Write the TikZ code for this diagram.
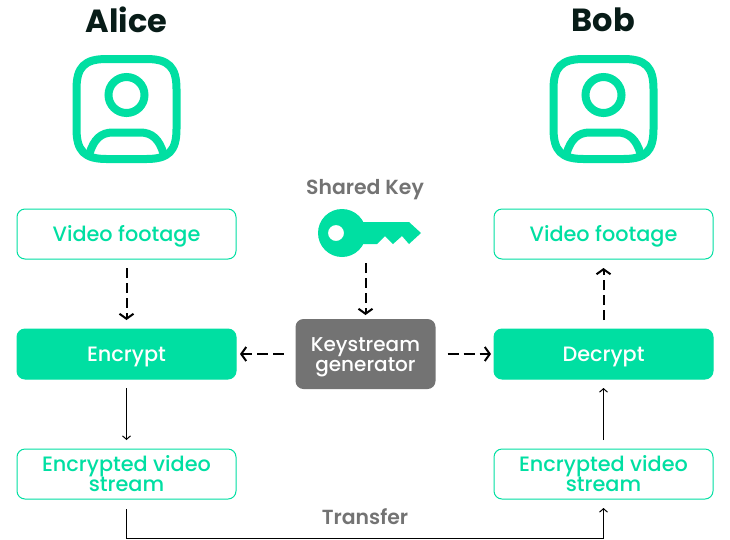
\documentclass[tikz,border=0pt]{standalone}
\usepackage{fontspec}
\setmainfont{Poppins Medium}
\newfontfamily\semiface{Poppins SemiBold}
\newfontfamily\boldface{Poppins Bold}
\usepackage{xcolor}
\definecolor{mint}{RGB}{0,223,162}
\definecolor{slate}{RGB}{115,115,115}
\definecolor{ink}{RGB}{8,28,24}
\usepackage{tikz}
\usetikzlibrary{positioning}
\usetikzlibrary{arrows.meta}
\tikzset{
  outline/.style  ={ font=\fontsize{20.8}{20}\selectfont, rectangle, rounded corners=8pt, draw=mint, fill=white, text=mint,
                     line width=1pt, outer sep=0pt, align=center, minimum width=219pt, minimum height=50pt, inner sep=0pt },
  solidbox/.style ={ outline, fill=mint, text=white, oneline },
  oneline/.style  ={ text height=16pt, text depth=2pt },
  keybox/.style   ={ font=\fontsize{20}{20}\selectfont, rectangle, rounded corners=8pt, fill=slate, text=white,
                     outer sep=0pt, align=center, minimum width=140pt, minimum height=70pt, inner sep=0pt },
  title/.style    ={ font=\boldface\fontsize{32}{32}\selectfont, text=ink, inner sep=0pt },
  caption/.style  ={ font=\semiface\fontsize{20.4}{20}\selectfont, text=slate, inner sep=0pt },
  dflow/.style={-{Straight Barb[length=5pt,width=14pt,line width=2pt]},dash pattern=on 10pt off 5pt,line width=2pt,shorten <=9pt,shorten >=9pt,draw=black},
  flow/.style={-{Straight Barb[length=3.5pt,width=8pt,line width=1pt]},line width=1pt,shorten <=9pt,shorten >=9pt,draw=black},
  person/.pic={
    \draw[draw=mint,line width=8pt] (-20,-50) -- (20,-50) .. controls (42,-50) and (50,-42) .. (50,-20) -- (50,20)
      .. controls (50,42) and (42,50) .. (20,50) -- (-20,50) .. controls (-42,50) and (-50,42) .. (-50,20) -- (-50,-20)
      .. controls (-50,-42) and (-42,-50) .. (-20,-50) -- cycle;
    \draw[draw=mint,line width=8pt] (0,-14) circle (18);
    \draw[draw=mint,line width=8pt] (-37,45) .. controls (-33,30) and (-25,23.5) .. (-14,23.5) -- (14,23.5)
      .. controls (25,23.5) and (33,30) .. (37,45);
  }
}

\begin{document}
\begin{tikzpicture}[x=1pt,y=-1pt]
\useasboundingbox (0,0) rectangle (730,539);

\node[outline,oneline] (srcA) at (126.5,234) {Video footage};
\node[solidbox] (enc)  [below=70pt of srcA] {Encrypt};
\node[outline]  (strA) [below=70pt of enc]  {Encrypted video\\stream};
\node[outline,oneline] (srcB) at (603.5,234) {Video footage};
\node[solidbox] (dec)  [below=70pt of srcB] {Decrypt};
\node[outline]  (strB) [below=70pt of dec]  {Encrypted video\\stream};
\node[keybox]   (gen)  at (365.5,354) {\rule{0pt}{21pt}Keystream\\generator};

\node[title]   (alice)  at (126.5,20) {Alice};
\node[title]   (bob)    at (603.5,20) {Bob};
\node[caption] (shared) at (365,190) {Shared Key};
\node[caption] (send)   at (365,517) {Transfer};

\pic at (126.5,109) {person};
\pic at (603.5,109) {person};

% key
\fill[mint,even odd rule] (342,233) circle (24) (336,233) circle (8);
\fill[mint] (355,222) -- (409,222) -- (421,233) -- (409,244) -- (402,236) -- (393,244) -- (385,236) -- (377,244) -- (355,244) -- cycle;
\coordinate (bit) at (365.5,254);

\draw[dflow] (srcA) -- (enc);
\draw[dflow] (dec) -- (srcB);
\draw[dflow,shorten >=4pt] (bit) -- (gen);
\draw[dflow,dash pattern=on 11pt off 5pt,shorten <=12pt,shorten >=4pt] (gen) -- (enc);
\draw[dflow,dash pattern=on 11pt off 5pt,shorten <=12pt,shorten >=3pt] (gen) -- (dec);

\draw[flow] (enc) -- (strA);
\draw[flow] (strB) -- (dec);

\coordinate (low) at (365.5,538.5);
\draw[flow,shorten <=10pt] (strA.south) |- (low) -| (strB.south);

\end{tikzpicture}
\end{document}
